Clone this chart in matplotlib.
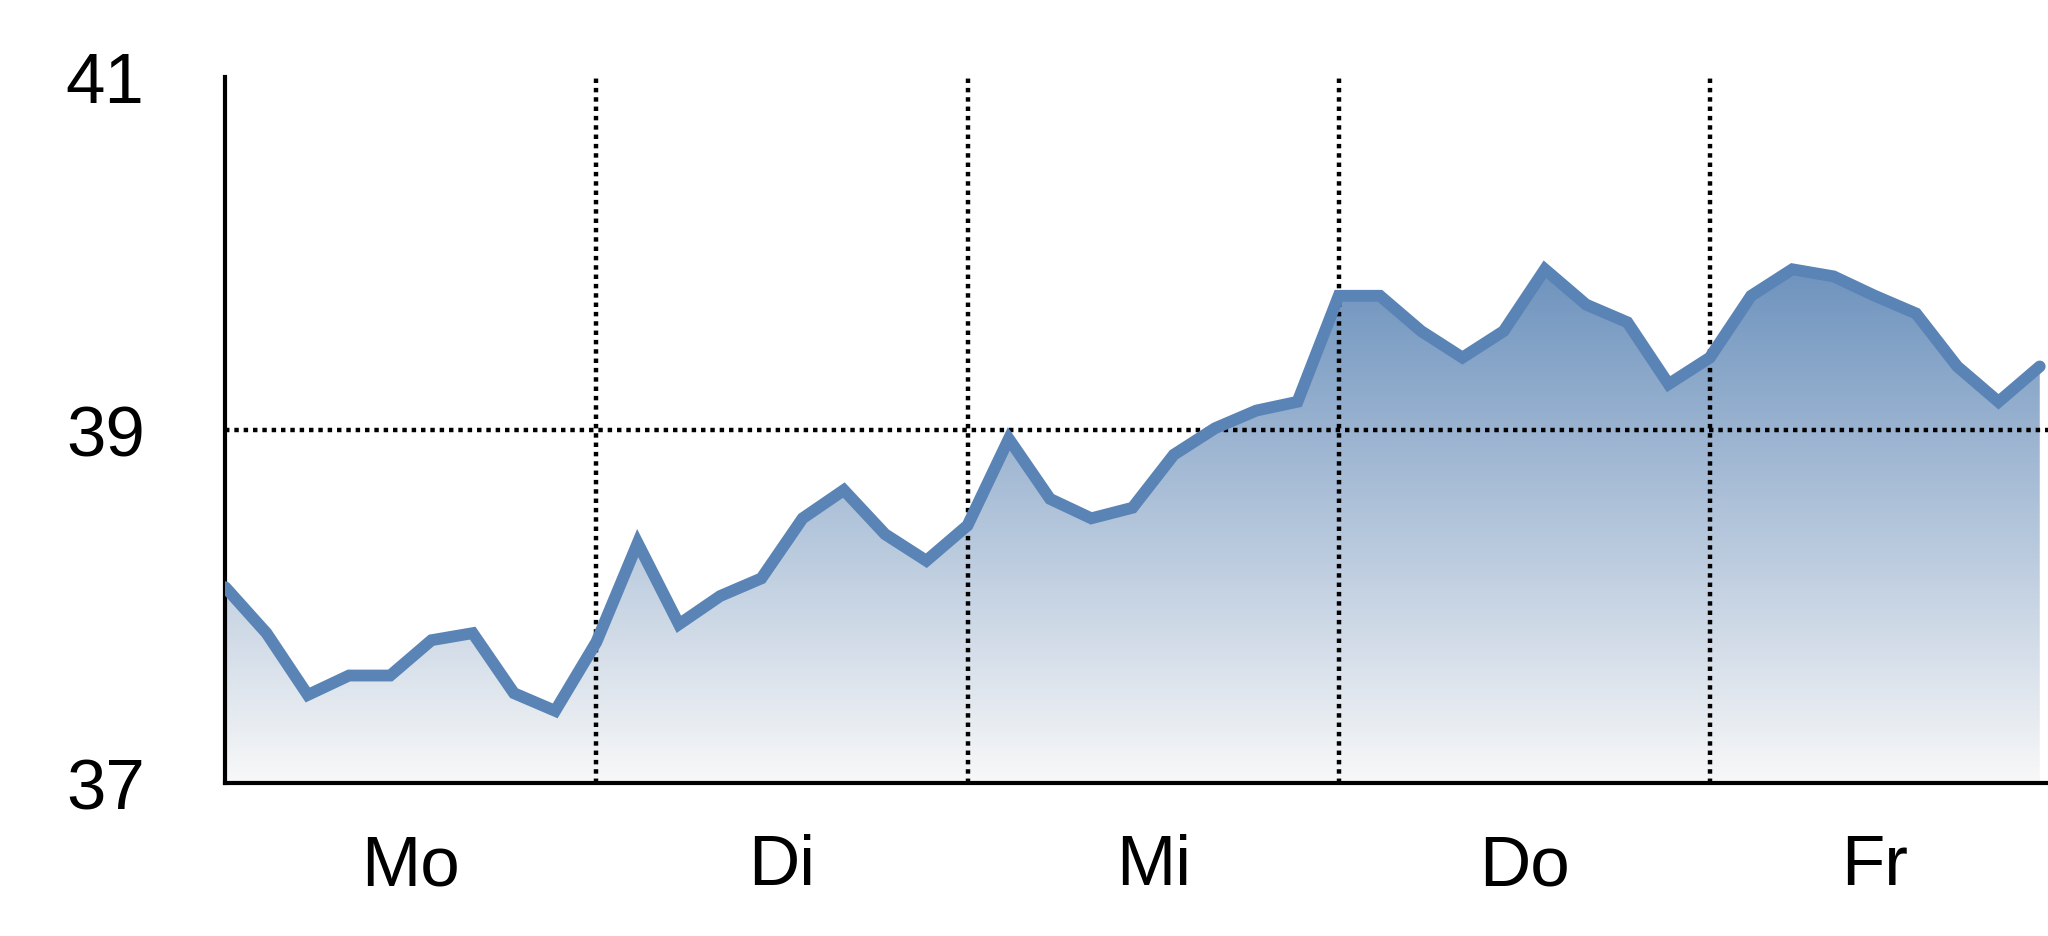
import numpy as np
import matplotlib
matplotlib.use("Agg")
import matplotlib.pyplot as plt
from matplotlib.colors import LinearSegmentedColormap

# Werte (stündlich, Mo-Fr)
werte = [38.11, 37.85, 37.50, 37.61, 37.61, 37.81, 37.85, 37.51, 37.41,
         37.80, 38.36, 37.90, 38.06, 38.16, 38.50, 38.66, 38.41, 38.26,
         38.46, 38.95, 38.61, 38.50, 38.56, 38.86, 39.01, 39.11, 39.16,
         39.76, 39.76, 39.56, 39.41, 39.56, 39.91, 39.71, 39.61, 39.26,
         39.41, 39.76, 39.91, 39.87, 39.76, 39.66, 39.36, 39.16, 39.36]
tage = ["Mo", "Di", "Mi", "Do", "Fr"]
tag_pos = [4.5, 13.5, 22.5, 31.5, 40]
tag_grenzen = [9, 18, 27, 36]
y_ticks = [37, 39, 41]

x = np.arange(len(werte))
y = np.array(werte)

plt.rcParams['font.family'] = ['Liberation Sans Narrow', 'Liberation Sans', 'DejaVu Sans']

fig = plt.figure(figsize=(20.48, 9.37), dpi=100)
ax = fig.add_axes([0.11, 0.163, 0.89, 0.754])

# Verlaufsfüllung unter der Linie
cmap = LinearSegmentedColormap.from_list("verlauf", ["#f8f8f8", "#6a90bc"])
grad = np.linspace(0, 1, 256).reshape(-1, 1)
poly = ax.fill_between(x, y, 37, color="none")
img = ax.imshow(grad, cmap=cmap, aspect="auto", origin="lower",
                extent=[0, x[-1], 37, 40.0], zorder=1)
img.set_clip_path(poly.get_paths()[0], transform=ax.transData)
ax.set_xlim(0, 44.2)
ax.set_ylim(37, 41)

ax.plot(x, y, color="#5a84b5", lw=8.5, solid_joinstyle="miter",
        solid_capstyle="round", zorder=3)

# gepunktete Hilfslinien
for g in tag_grenzen:
    ax.axvline(g, color="black", ls=(0, (1, 1.1)), lw=3.2, zorder=2)
ax.axhline(39, color="black", ls=(0, (1, 1.1)), lw=3.2, zorder=2)

ax.spines["top"].set_visible(False)
ax.spines["right"].set_visible(False)
ax.spines["left"].set_linewidth(3)
ax.spines["bottom"].set_linewidth(3)

ax.set_yticks(y_ticks)
ax.set_yticklabels([str(t) for t in y_ticks])
ax.set_xticks(tag_pos)
ax.set_xticklabels(tage)
ax.tick_params(axis="y", length=0, pad=58, labelsize=51)
ax.tick_params(axis="x", length=0, pad=36, labelsize=51)

fig.savefig("out.png", dpi=100)
